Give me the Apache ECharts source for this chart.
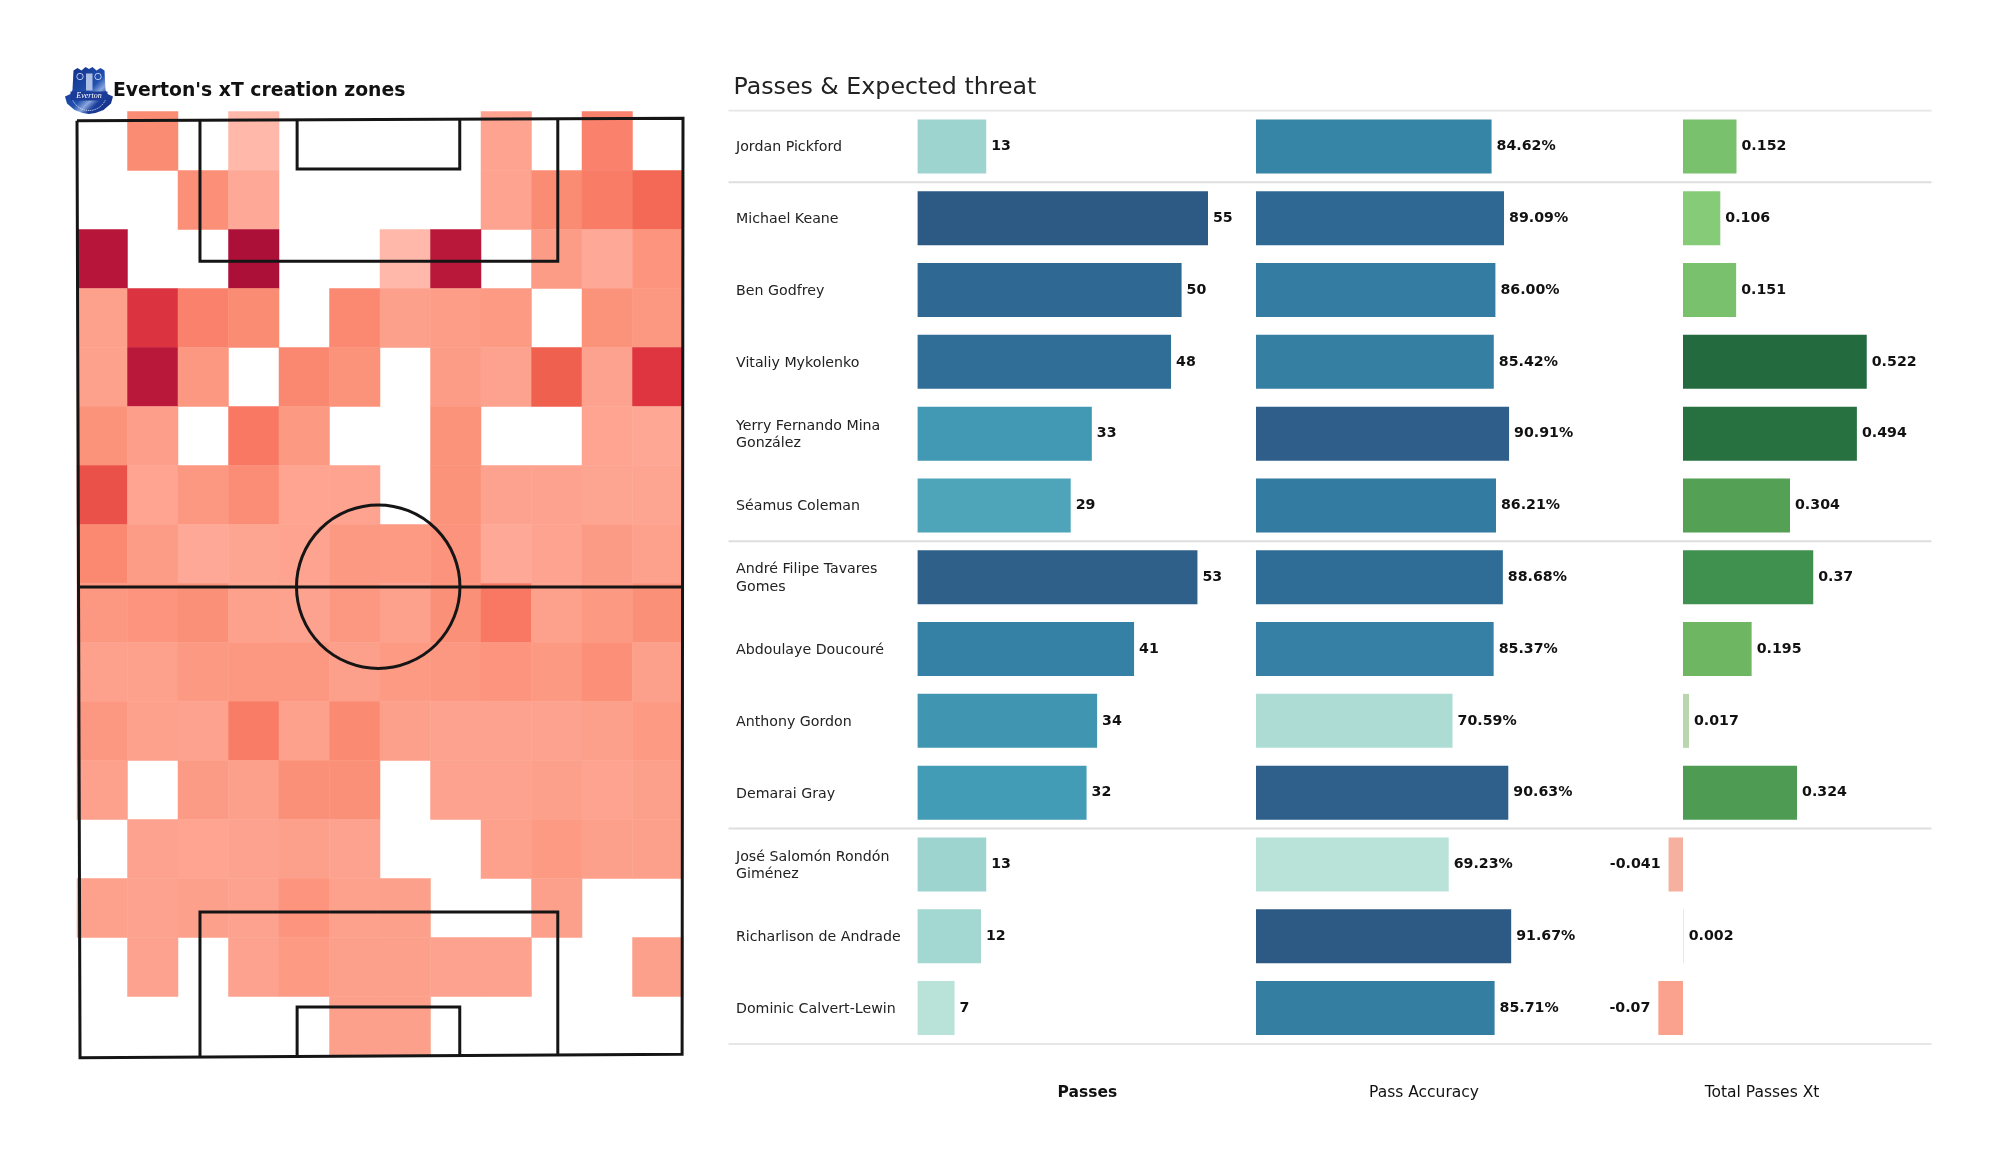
<!DOCTYPE html>
<html><head><meta charset="utf-8">
<style>html,body{margin:0;padding:0;background:#fff}#c{width:2000px;height:1175px}</style>
<script src="https://cdn.jsdelivr.net/npm/echarts@6/dist/echarts.min.js"></script>
</head><body><div id="c"></div>
<script>
const players = ["Jordan Pickford","Michael Keane","Ben Godfrey","Vitaliy Mykolenko","Yerry Fernando Mina\nGonzález","Séamus Coleman","André Filipe Tavares\nGomes","Abdoulaye Doucouré","Anthony Gordon","Demarai Gray","José Salomón Rondón\nGiménez","Richarlison de Andrade","Dominic Calvert-Lewin"];
const passes = [13,55,50,48,33,29,53,41,34,32,13,12,7];
const accuracy = [84.62,89.09,86.00,85.42,90.91,86.21,88.68,85.37,70.59,90.63,69.23,91.67,85.71];
const xt = [0.152,0.106,0.151,0.522,0.494,0.304,0.37,0.195,0.017,0.324,-0.041,0.002,-0.07];
const dividerRows = [0,1,6,10,13];
const _ = null;
const heatRows = [
 [_,30,_,0,_,_,_,_,12,_,36,_],
 [_,_,28,8,_,_,_,_,12,30,40,50],
 [100,_,_,104,_,_,0,98,_,18,8,24],
 [14,72,36,30,_,32,15,17,20,_,26,22],
 [14,98,22,_,33,26,_,18,13,55,13,70],
 [26,16,_,42,21,_,_,26,_,_,11,9],
 [60,11,22,29,11,12,_,26,13,13,10,10],
 [32,18,8,10,12,21,20,25,8,12,19,14],
 [22,24,27,14,13,22,14,27,42,14,21,27],
 [14,14,21,22,22,15,20,22,24,21,28,15],
 [22,14,13,40,14,31,15,13,13,13,15,20],
 [14,_,19,15,27,27,_,13,13,15,12,15],
 [_,13,11,13,15,13,_,_,14,20,15,15],
 [14,13,15,13,24,14,15,_,_,15,_,_],
 [_,13,_,13,20,15,15,13,13,_,_,15],
 [_,_,_,_,_,15,15,_,_,_,_,_]
];
const pitchOutline = [[0,104.7],[68,104.97],[67.9,0.41],[0.34,0.03],[0,104.7]];
const pitchHalfway = [[0,52.6],[68,52.6]];
const topBox = [[13.8,104.8],[13.8,89],[53.95,89],[53.95,104.9]];
const topSix = [[24.7,104.8],[24.7,99.3],[42.95,99.3],[42.95,104.9]];
const lowBox = [[13.8,0.1],[13.8,16.3],[53.95,16.3],[53.95,0.3]];
const lowSix = [[24.7,0.15],[24.7,5.7],[42.95,5.7],[42.95,0.25]];
const pitchCircle = [33.8,52.65,9.15];

const heatStops = [[0,'#ffb8aa'],[10,'#fea592'],[20,'#fc9a84'],[30,'#fb8c74'],[40,'#f97c66'],[55,'#f0604e'],[70,'#de3540'],[100,'#b7163a'],[105,'#a90f37']];
const blueStops = ['#b9e3d8','#95cfcc','#68b5c0','#459fb7','#3787a8','#30709a','#2d5a85'];
const xtStops = [[-0.07,'#fba28f'],[-0.041,'#f5b0a0'],[0,'#dfe6d8'],[0.017,'#b9d6ae'],[0.106,'#86cc78'],[0.195,'#6fb662'],[0.304,'#54a055'],[0.37,'#40904f'],[0.494,'#26713f'],[0.522,'#236a3f']];

function hex(c){return [1,3,5].map(i=>parseInt(c.substr(i,2),16));}
function ramp(stops,v){
  if(v<=stops[0][0])return stops[0][1];
  for(let i=1;i<stops.length;i++){
    if(v<=stops[i][0]){
      const t=(v-stops[i-1][0])/(stops[i][0]-stops[i-1][0]),a=hex(stops[i-1][1]),b=hex(stops[i][1]);
      return 'rgb('+a.map((x,k)=>Math.round(x+(b[k]-x)*t)).join(',')+')';
    }
  }
  return stops[stops.length-1][1];
}
const heatColors=[];for(let i=0;i<=105;i++)heatColors.push(ramp(heatStops,i));
const heatData=[];heatRows.forEach((r,y)=>r.forEach((v,x)=>{if(v!==null)heatData.push([x,y,v]);}));

const FONT="DejaVu Sans";
const TOP=110.5,H=933.5;
function hiddenX(grid,min,max,name,bold){return {type:'value',gridIndex:grid,min,max,splitLine:{show:false},axisLine:{show:false},axisTick:{show:false},axisLabel:{show:false},
  name,nameLocation:'middle',nameGap:41,nameTextStyle:{fontFamily:FONT,fontSize:15.5,color:'#111',fontWeight:bold?'bold':'normal'}};}
function catY(grid,labels){return {type:'category',gridIndex:grid,inverse:true,data:players,axisLine:{show:false},axisTick:{show:false},splitLine:{show:false},
  axisLabel:labels?{show:true,align:'left',margin:181.6,fontFamily:FONT,fontSize:14.2,lineHeight:17.5,color:'#222',interval:0}:{show:false}};}
function barLabel(fmt){return {show:true,position:'right',distance:5,fontFamily:FONT,fontSize:14.2,fontWeight:'bold',color:'#111',formatter:fmt};}

function pitchItem(params,api){
  const st={stroke:'#151515',lineWidth:3,fill:null};
  const poly=(pts)=>({type:'polyline',shape:{points:pts.map(p=>api.coord(p))},style:st,silent:true});
  const c=api.coord([pitchCircle[0],pitchCircle[1]]),s=api.size([pitchCircle[2],pitchCircle[2]]);
  return {type:'group',children:[pitchOutline,pitchHalfway,topBox,topSix,lowBox,lowSix].map(poly).concat([
    {type:'circle',shape:{cx:c[0],cy:c[1],r:(s[0]+s[1])/2},style:st,silent:true}])};
}

const option={
  animation:false,backgroundColor:'#fff',
  title:[
    {text:"Everton's xT creation zones",left:108,top:77,textStyle:{fontFamily:FONT,fontSize:18.8,fontWeight:'bold',color:'#111'}},
    {text:"Passes & Expected threat",left:728.5,top:71,textStyle:{fontFamily:FONT,fontSize:23.7,fontWeight:'normal',color:'#222'}}
  ],
  visualMap:[{type:'continuous',show:false,seriesIndex:0,min:0,max:105,inRange:{color:heatColors}}],
  grid:[
    {left:77,top:111.4,width:606,height:944},
    {left:77,top:118,width:606,height:940},
    {left:917.6,top:TOP,width:339.5,height:H},
    {left:1256,top:TOP,width:336,height:H},
    {left:1594,top:TOP,width:336,height:H},
    {left:728.5,top:TOP,width:1203,height:H},
    {left:917.6,top:TOP+1.3,width:339.5,height:H}
  ],
  xAxis:[
    {type:'category',gridIndex:0,show:false,data:heatRows[0].map((_,i)=>i)},
    {type:'value',gridIndex:1,show:false,min:0,max:68},
    hiddenX(2,0,64.3,'Passes',true),
    hiddenX(3,0,120.7,'Pass Accuracy',false),
    hiddenX(4,-0.2528,0.7017,'Total Passes Xt',false),
    {type:'value',gridIndex:5,show:false,min:0,max:1},
    {type:'value',gridIndex:6,show:false,min:0,max:1}
  ],
  yAxis:[
    {type:'category',gridIndex:0,show:false,inverse:true,data:heatRows.map((_,i)=>i)},
    {type:'value',gridIndex:1,show:false,min:0,max:105},
    catY(2,false),catY(3,false),catY(4,false),
    {type:'value',gridIndex:5,show:false,inverse:true,min:0,max:13},
    catY(6,true)
  ],
  series:[
    {type:'heatmap',xAxisIndex:0,yAxisIndex:0,data:heatData,itemStyle:{borderWidth:0},emphasis:{disabled:true},progressive:0,z:1},
    {type:'custom',xAxisIndex:1,yAxisIndex:1,renderItem:pitchItem,data:[[0,0]],silent:true,z:5},
    {type:'bar',xAxisIndex:2,yAxisIndex:2,barWidth:54,data:passes,label:barLabel(p=>p.value),
      itemStyle:{color:p=>ramp(blueStops.map((c,i)=>[7+i*8,c]),p.value)}},
    {type:'bar',xAxisIndex:3,yAxisIndex:3,barWidth:54,data:accuracy,label:barLabel(p=>p.value.toFixed(2)+'%'),
      itemStyle:{color:p=>ramp(blueStops.map((c,i)=>[69.23+i*22.44/6,c]),p.value)}},
    {type:'bar',xAxisIndex:4,yAxisIndex:4,barWidth:54,
      data:xt.map(v=>({value:v,label:{position:v<0?'left':'right',distance:v<0?8:5}})),
      label:barLabel(p=>String(p.value)),
      itemStyle:{color:p=>ramp(xtStops,p.value)}},
    ...dividerRows.map(r=>({type:'line',xAxisIndex:5,yAxisIndex:5,symbol:'none',silent:true,data:[[0,r],[1,r]],
      lineStyle:{color:(r===0||r===13)?'#e6e6e6':'#dedede',width:2},z:0}))
  ],
  graphic:[{type:'group',left:65,top:67,children:[
    {type:'polygon',shape:{points:[[8,5],[12,2.5],[16,5],[20,1.5],[23.5,3.5],[27,1.5],[31,5],[35,2.5],[39,5],[40,24],[41,28],[47.5,31],[45.5,38],[38,44.5],[30,47.5],[23.5,48.5],[17,47.5],[9,44.5],[1.5,38],[-0.5,31],[6,28],[7,24]]},
      style:{fill:{type:'linear',x:0,y:0,x2:1,y2:1,colorStops:[{offset:0,color:'#0f2a86'},{offset:0.5,color:'#2150ae'},{offset:0.62,color:'#8aa6dd'},{offset:0.72,color:'#1d3f9c'},{offset:1,color:'#0e2778'}]}}},
    {type:'circle',shape:{cx:14.5,cy:11,r:3.2},style:{stroke:'#c9d6f2',fill:null,lineWidth:0.9}},
    {type:'circle',shape:{cx:32.5,cy:11,r:3.2},style:{stroke:'#c9d6f2',fill:null,lineWidth:0.9}},
    {type:'rect',shape:{x:20.5,y:8,width:6.5,height:17},style:{fill:'#c8d5f0',opacity:0.85}},
    {type:'rect',shape:{x:5,y:26,width:37,height:9},style:{fill:'#1b3b98'}},
    {type:'text',style:{text:'Everton',x:23.5,y:30.5,align:'center',verticalAlign:'middle',fill:'#fff',font:'italic 8px "Liberation Serif"'}},
    {type:'arc',shape:{cx:23.5,cy:27,r:18,startAngle:0.45,endAngle:2.7},style:{stroke:'#dbe4f7',fill:null,lineWidth:1,lineDash:[1.2,1]}}
  ]}]
};
echarts.init(document.getElementById('c'),null,{renderer:'canvas'}).setOption(option);
</script></body></html>
